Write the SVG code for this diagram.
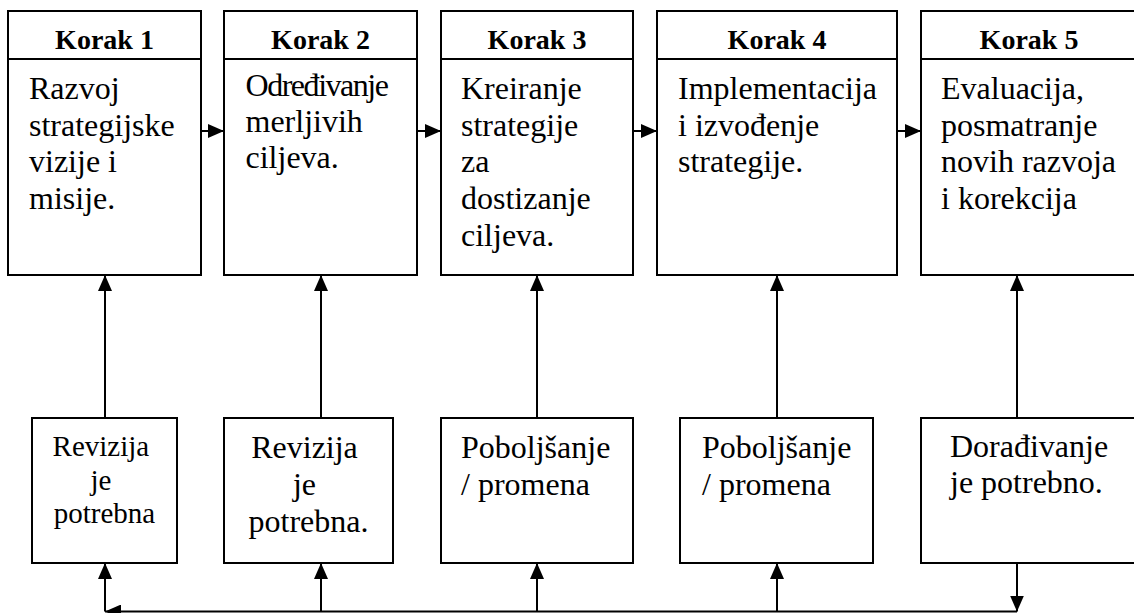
<svg xmlns="http://www.w3.org/2000/svg" width="1134" height="613" viewBox="0 0 1134 613">
  <style>
    .box { fill: #fff; stroke: #000; stroke-width: 2; }
    .sep { stroke: #000; stroke-width: 2; }
    text { font-family: "Liberation Serif", "DejaVu Serif", serif; fill: #000; }
    .head { font-weight: bold; font-size: 28px; text-anchor: middle; }
    .txt { font-size: 32px; }
    .sm { font-size: 29px; }
    .mid { text-anchor: middle; }
    .wire { fill: none; stroke: #000; stroke-width: 2; }
  </style>
  <defs>
    <marker id="arrow" viewBox="0 0 16 14" refX="16" refY="7" markerWidth="16" markerHeight="14" markerUnits="userSpaceOnUse" orient="auto">
      <path d="M0,0 L16,7 L0,14 Z" fill="#000"/>
    </marker>
  </defs>
  <rect width="1134" height="613" fill="#fff"/>

  <!-- Step boxes -->
  <g id="korak1">
    <rect class="box" x="8" y="11" width="193" height="264"/>
    <line class="sep" x1="8" y1="59" x2="201" y2="59"/>
    <text class="head" x="104.5" y="49">Korak 1</text>
    <text class="txt">
      <tspan x="29" y="99">Razvoj</tspan>
      <tspan x="29" y="135.7">strategijske</tspan>
      <tspan x="29" y="172.4">vizije i</tspan>
      <tspan x="29" y="209">misije.</tspan>
    </text>
  </g>
  <g id="korak2">
    <rect class="box" x="224" y="11" width="193" height="264"/>
    <line class="sep" x1="224" y1="59" x2="417" y2="59"/>
    <text class="head" x="320.5" y="49">Korak 2</text>
    <text class="txt" x="245.5" y="96" textLength="143.5" lengthAdjust="spacing">Određivanje</text>
    <text class="txt">
      <tspan x="245.5" y="132">merljivih</tspan>
      <tspan x="245.5" y="168">ciljeva.</tspan>
    </text>
  </g>
  <g id="korak3">
    <rect class="box" x="441" y="11" width="192" height="264"/>
    <line class="sep" x1="441" y1="59" x2="633" y2="59"/>
    <text class="head" x="537" y="49">Korak 3</text>
    <text class="txt">
      <tspan x="461" y="99">Kreiranje</tspan>
      <tspan x="461" y="135.7">strategije</tspan>
      <tspan x="461" y="172.4">za</tspan>
      <tspan x="461" y="209">dostizanje</tspan>
      <tspan x="461" y="245.8">ciljeva.</tspan>
    </text>
  </g>
  <g id="korak4">
    <rect class="box" x="657" y="11" width="240" height="264"/>
    <line class="sep" x1="657" y1="59" x2="897" y2="59"/>
    <text class="head" x="777" y="49">Korak 4</text>
    <text class="txt">
      <tspan x="678" y="99">Implementacija</tspan>
      <tspan x="678" y="135.7">i izvođenje</tspan>
      <tspan x="678" y="172.4">strategije.</tspan>
    </text>
  </g>
  <g id="korak5">
    <rect class="box" x="921" y="11" width="216" height="264"/>
    <line class="sep" x1="921" y1="59" x2="1137" y2="59"/>
    <text class="head" x="1029" y="49">Korak 5</text>
    <text class="txt">
      <tspan x="941" y="99">Evaluacija,</tspan>
      <tspan x="941" y="135.7">posmatranje</tspan>
      <tspan x="941" y="172.4">novih razvoja</tspan>
      <tspan x="941" y="209">i korekcija</tspan>
    </text>
  </g>

  <!-- Feedback boxes -->
  <g id="revizija1">
    <rect class="box" x="32" y="418" width="145" height="145"/>
    <text class="txt sm mid">
      <tspan x="104.5" y="456">Revizija</tspan>
      <tspan x="104.5" y="489.5">je</tspan>
      <tspan x="104.5" y="523">potrebna</tspan>
    </text>
  </g>
  <g id="revizija2">
    <rect class="box" x="224" y="418" width="169" height="145"/>
    <text class="txt mid">
      <tspan x="308.5" y="458.3">Revizija</tspan>
      <tspan x="308.5" y="495">je</tspan>
      <tspan x="308.5" y="531.7">potrebna.</tspan>
    </text>
  </g>
  <g id="poboljsanje3">
    <rect class="box" x="441" y="418" width="192" height="145"/>
    <text class="txt">
      <tspan x="461" y="458.3">Poboljšanje</tspan>
      <tspan x="461" y="495">/ promena</tspan>
    </text>
  </g>
  <g id="poboljsanje4">
    <rect class="box" x="680" y="418" width="193" height="145"/>
    <text class="txt">
      <tspan x="702" y="458.3">Poboljšanje</tspan>
      <tspan x="702" y="495">/ promena</tspan>
    </text>
  </g>
  <g id="doradjivanje5">
    <rect class="box" x="921" y="418" width="216" height="145"/>
    <text class="txt">
      <tspan x="950" y="456.7">Dorađivanje</tspan>
      <tspan x="950" y="493.3">je potrebno.</tspan>
    </text>
  </g>

  <!-- Connectors -->
  <g id="connectors">
    <!-- step to step -->
    <line class="wire" x1="201" y1="131" x2="224" y2="131" marker-end="url(#arrow)"/>
    <line class="wire" x1="417" y1="131" x2="441" y2="131" marker-end="url(#arrow)"/>
    <line class="wire" x1="633" y1="131" x2="657" y2="131" marker-end="url(#arrow)"/>
    <line class="wire" x1="897" y1="131" x2="921" y2="131" marker-end="url(#arrow)"/>
    <!-- feedback box to step -->
    <line class="wire" x1="105" y1="418" x2="105" y2="275" marker-end="url(#arrow)"/>
    <line class="wire" x1="321" y1="418" x2="321" y2="275" marker-end="url(#arrow)"/>
    <line class="wire" x1="537" y1="418" x2="537" y2="275" marker-end="url(#arrow)"/>
    <line class="wire" x1="777" y1="418" x2="777" y2="275" marker-end="url(#arrow)"/>
    <line class="wire" x1="1017" y1="418" x2="1017" y2="275" marker-end="url(#arrow)"/>
    <!-- return loop -->
    <line class="wire" x1="1017" y1="563" x2="1017" y2="611.5" marker-end="url(#arrow)"/>
    <line class="wire" x1="1017" y1="611.5" x2="105" y2="611.5" marker-end="url(#arrow)"/>
    <line class="wire" x1="105" y1="611.5" x2="105" y2="563" marker-end="url(#arrow)"/>
    <line class="wire" x1="321" y1="611.5" x2="321" y2="563" marker-end="url(#arrow)"/>
    <line class="wire" x1="537" y1="611.5" x2="537" y2="563" marker-end="url(#arrow)"/>
    <line class="wire" x1="777" y1="611.5" x2="777" y2="563" marker-end="url(#arrow)"/>
  </g>
</svg>
